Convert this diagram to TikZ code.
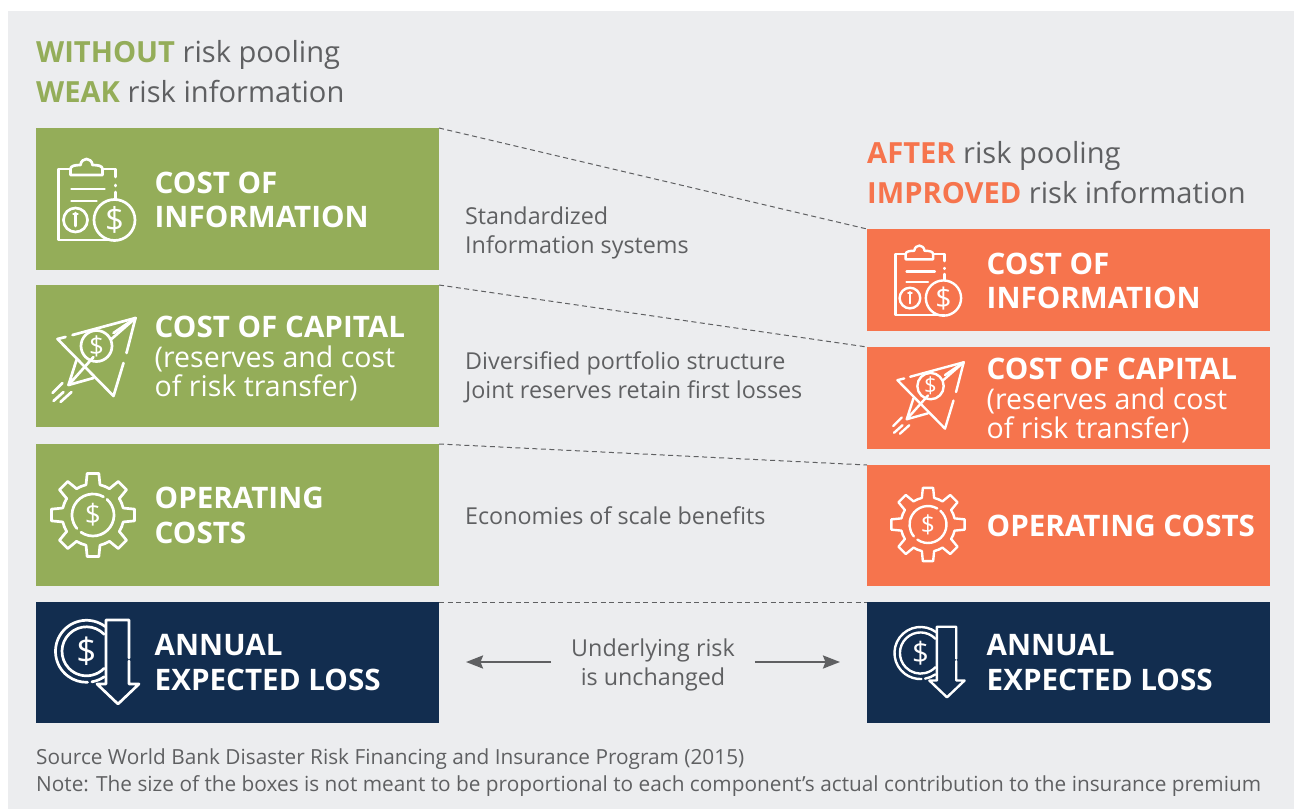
\documentclass[tikz,border=0pt]{standalone}
\usepackage{fontspec}
\setmainfont{Open Sans}
\usetikzlibrary{arrows.meta}
\definecolor{riskgreen}{HTML}{94AD59}
\definecolor{riskorange}{HTML}{F6744D}
\definecolor{risknavy}{HTML}{122D4F}
\definecolor{riskgrey}{HTML}{ECEDEF}
\definecolor{inkgrey}{HTML}{5F6062}
\newcommand{\px}[1]{\fontsize{#1}{#1}\selectfont}
\tikzset{
    box/.style={minimum width=403pt,inner sep=0pt,outer sep=0pt},
    boxlabel/.style={white,anchor=west,align=left,inner sep=0pt,font=\bfseries\fontsize{29.6}{34.5}\selectfont},
    sublabel/.style={white,anchor=west,align=left,inner sep=0pt,font=\fontsize{28.5}{29}\selectfont},
    heading/.style={inkgrey,anchor=base west,inner sep=0pt,font=\px{29.1}},
    note/.style={inkgrey,anchor=west,align=left,inner sep=0pt,font=\fontsize{23.3}{29}\selectfont},
    foot/.style={inkgrey,anchor=base west,inner sep=0pt,font=\px{20.8}},
    link/.style={inkgrey,dash pattern=on 5pt off 3.5pt,line width=1pt},
    flow/.style={inkgrey,line width=2.4pt,-{Stealth[length=17pt,width=13pt,inset=2.5pt]}},
    icon/.style={white,line width=2.7pt,line cap=round,line join=round},
    dollar/.style={white,inner sep=0pt,transform shape}
}
% icons are drawn round (0,0)
\newcommand{\infoicon}{
    \draw (-26,-30) -- (-38,-30) -- (-38,41) -- (19,41);
    \draw (-26,-30) -- (-26,-24) -- (6,-24) -- (6,-30) .. controls (6,-33) and (2,-34) .. (-4,-34)
        .. controls (-5,-42) and (-15,-42) .. (-16,-34) .. controls (-22,-34) and (-26,-33) .. (-26,-30);
    \draw (6,-30) -- (19,-30) -- (19,-22);
    \draw (19,-14) -- (19,-13);
    \draw (19,-7) -- (19,0);
    \draw (-25,-10) -- (8,-10);
    \draw (-25,2) -- (0,2);
    \draw (-21,21) circle (12);
    \draw (-21,14) -- (-21,27);
    \draw (-23,15) -- (-19,15);
    \draw (18,21) circle (20.5);
    \node[dollar,font=\px{33}] (cash) at (18,21) {\$};
}
\newcommand{\planeicon}{
    \draw (42,-42) -- (-21,-25);
    \draw (-28,-23) -- (-36,-21) -- (20,36) -- (30,3);
    \draw (33,-7) -- (42,-42);
    \draw (42,-42) -- (20,-27);
    \draw (42,-42) -- (18,-21);
    \draw (0,-3) -- (-25,25) -- (-17,0);
    \draw (-25,25) -- (0,18);
    \draw (3,-14) circle (15.5);
    \node[dollar,font=\px{26}] (cash) at (3,-14) {\$};
    \draw (-31,23) -- (-41,33);
    \draw (-30,32) -- (-40,41);
    \draw (-22,32) -- (-33,42);
}
\newcommand{\gearicon}{
    \foreach \a in {0,45,...,315}{
        \draw (\a-22.5:31) -- (\a-13:31) -- (\a-8:42) -- (\a+8:42) -- (\a+13:31) -- (\a+22.5:31);
    }
    \draw (-60:21) arc[start angle=-60,end angle=-220,radius=21];
    \draw (125:21) arc[start angle=125,end angle=-48,radius=21];
    \node[dollar,font=\px{28}] (cash) at (0,0) {\$};
}
\newcommand{\lossicon}{
    \draw (33,-1) -- (33,22) -- (43,22) -- (22,42) -- (1,22) -- (10,22) -- (10,-42) -- (33,-42) -- (33,-4);
    \begin{scope}[shift={(-9.5,-10.7)}]
        \draw (-53:31) arc[start angle=-53,end angle=-272,radius=31];
        \draw (80:31) arc[start angle=80,end angle=55,radius=31];
        \draw (-44:24.5) arc[start angle=-44,end angle=-316,radius=24.5];
        \node[dollar,font=\px{35}] (cash) at (0,0) {\$};
    \end{scope}
}

\begin{document}
\begin{tikzpicture}[x=1pt,y=-1pt]
    \useasboundingbox (0,0) rectangle (1294,809);
    \fill [riskgrey] (8,11) rectangle (1294,809);

    \node [heading] (headA) at (36,62) {\textbf{\textcolor{riskgreen}{WITHOUT}} risk pooling};
    \node [heading] (headB) at (36,102) {\textbf{\textcolor{riskgreen}{WEAK}} risk information};
    \node [heading] (headC) at (867,163) {\textbf{\textcolor{riskorange}{AFTER}} risk pooling};
    \node [heading] (headD) at (867,203) {\textbf{\textcolor{riskorange}{IMPROVED}} risk information};

    \node [box,fill=riskgreen,minimum height=142pt] (infoL) at (237.5,199) {};
    \node [box,fill=riskgreen,minimum height=142pt] (capL) at (237.5,356) {};
    \node [box,fill=riskgreen,minimum height=142pt] (opL) at (237.5,515) {};
    \node [box,fill=risknavy,minimum height=121pt] (lossL) at (237.5,662.5) {};
    \node [box,fill=riskorange,minimum height=102pt] (infoR) at (1068.5,280) {};
    \node [box,fill=riskorange,minimum height=102pt] (capR) at (1068.5,398) {};
    \node [box,fill=riskorange,minimum height=121pt] (opR) at (1068.5,525.5) {};
    \node [box,fill=risknavy,minimum height=121pt] (lossR) at (1068.5,662.5) {};

    \draw [link] (infoL.north east) -- (infoR.north west);
    \draw [link] (capL.north east) -- (capR.north west);
    \draw [link] (opL.north east) -- (opR.north west);
    \draw [link] (lossL.north east) -- (lossR.north west);

    \node [boxlabel] (infoTextL) at (154.5,200) {COST OF\\INFORMATION};
    \node [boxlabel] (capTextL) at (154.5,327) {COST OF CAPITAL};
    \node [sublabel] (capSubL) at (154.5,373) {(reserves and cost\\of risk transfer)};
    \node [boxlabel] (opTextL) at (154.5,515.5) {OPERATING\\COSTS};
    \node [boxlabel] (lossTextL) at (154.5,662.5) {ANNUAL\\EXPECTED LOSS};
    \node [boxlabel] (infoTextR) at (986.5,281) {COST OF\\INFORMATION};
    \node [boxlabel] (capTextR) at (986.5,369) {COST OF CAPITAL};
    \node [sublabel] (capSubR) at (986.5,415) {(reserves and cost\\of risk transfer)};
    \node [boxlabel] (opTextR) at (986.5,526) {OPERATING COSTS};
    \node [boxlabel] (lossTextR) at (986.5,662.5) {ANNUAL\\EXPECTED LOSS};

    \node [note] (noteA) at (465,232.5) {Standardized\\Information systems};
    \node [note] (noteB) at (465,377) {Diversified portfolio structure\\Joint reserves retain first losses};
    \node [note] (noteC) at (465,516) {Economies of scale benefits};
    \node [note,anchor=center,align=center,inner xsep=20pt] (noteD) at (653,665) {Underlying risk\\is unchanged};

    \coordinate (leftEnd) at (466,662);
    \coordinate (rightEnd) at (840,662);
    \draw [flow] (noteD.west |- leftEnd) -- (leftEnd);
    \draw [flow] (noteD.east |- rightEnd) -- (rightEnd);

    \node [foot] (source) at (36,764.5) {Source World Bank Disaster Risk Financing and Insurance Program (2015)};
    \node [foot] (remark) at (36,791) {Note: The size of the boxes is not meant to be proportional to each component’s actual contribution to the insurance premium};

    \begin{scope}[icon,shift={(96.5,199)}] \infoicon \end{scope}
    \begin{scope}[icon,shift={(93.5,360)}] \planeicon \end{scope}
    \begin{scope}[icon,shift={(93,515)}] \gearicon \end{scope}
    \begin{scope}[icon,shift={(96,662)}] \lossicon \end{scope}
    \begin{scope}[icon,line width=2.4pt,shift={(928,280)},scale=0.86] \infoicon \end{scope}
    \begin{scope}[icon,line width=2.4pt,shift={(928,398)},scale=0.85] \planeicon \end{scope}
    \begin{scope}[icon,line width=2.4pt,shift={(928,524.5)},scale=0.88] \gearicon \end{scope}
    \begin{scope}[icon,line width=2.4pt,shift={(928.5,662)},scale=0.84] \lossicon \end{scope}
\end{tikzpicture}
\end{document}
